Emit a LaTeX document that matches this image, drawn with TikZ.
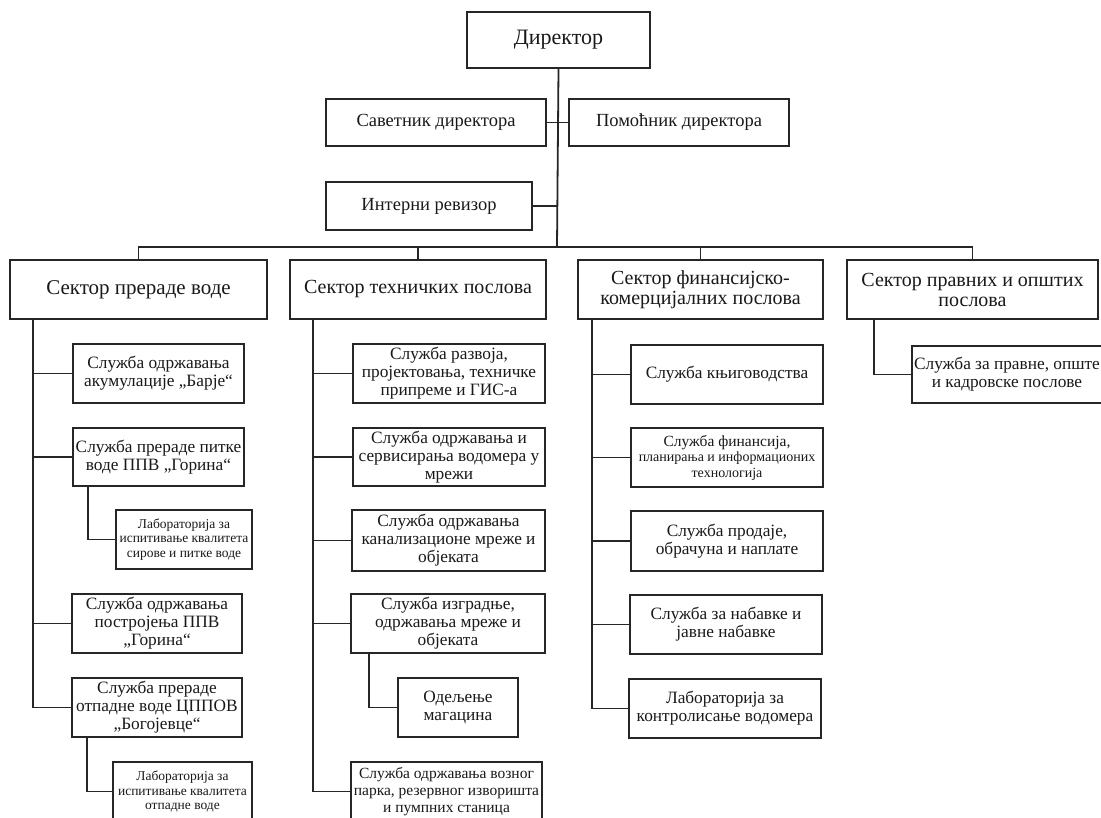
\documentclass[tikz,border=0pt]{standalone}
\usepackage{fontspec}
\setmainfont{Liberation Serif}
\usetikzlibrary{calc}
\tikzset{
  box/.style={draw=black!85, line width=1.8pt, fill=white, align=center, inner sep=1pt, text=black!90},
  wh/.style n args={2}{minimum width=#1pt, minimum height=#2pt},
  fbig/.style={font=\fontsize{22}{24}\selectfont},
  fmid/.style={font=\fontsize{18.5}{22}\selectfont},
  fsec/.style={font=\fontsize{20}{20}\selectfont},
  fsecb/.style={font=\fontsize{21}{21}\selectfont},
  fchild/.style={font=\fontsize{17.3}{18}\selectfont},
  fsmall/.style={font=\fontsize{15.5}{17}\selectfont},
  flab/.style={font=\fontsize{13.5}{14.5}\selectfont},
  conn/.style={draw=black!85, line width=1.8pt},
}
\begin{document}
\begin{tikzpicture}[x=1pt,y=-1pt]
\useasboundingbox (0,0) rectangle (1101,818);
\fill[white] (0,0) rectangle (1101,818);
\clip (0,0) rectangle (1101,818);

% top level
\node[box,fbig,wh={183}{56}] (dir) at (558.5,40) {Директор};
\node[box,fmid,wh={220}{47}] (sav) at (436,122.5) {Саветник директора};
\node[box,fmid,wh={220}{47}] (pom) at (679,122.5) {Помоћник директора};
\node[box,fmid,wh={206}{48}] (int) at (429,206) {Интерни ревизор};
\coordinate (bus) at (557,247);

% sectors
\node[box,fsecb,wh={257}{59}] (s1) at (138.5,289.5) {Сектор прераде воде};
\node[box,fsec,wh={256}{59}] (s2) at (418,289.5) {Сектор техничких послова};
\node[box,fsec,wh={245}{59}] (s3) at (700.5,289.5) {Сектор финансијско-\\комерцијалних послова};
\node[box,fsec,wh={251}{59}] (s4) at (972.5,289.5) {Сектор правних и општих\\послова};

% sector 1
\node[box,fchild,wh={171}{59}] (a1) at (158.5,373.5) {Служба одржавања\\акумулације „Барје“};
\node[box,fchild,wh={171}{58}] (a2) at (158.5,457) {Служба прераде питке\\воде ППВ „Горина“};
\node[box,flab,wh={136}{59}] (a2l) at (184,539.5) {Лабораторија за\\испитивање квалитета\\сирове и питке воде};
\node[box,fchild,wh={170}{59}] (a3) at (157,623.5) {Служба одржавања\\постројења ППВ\\„Горина“};
\node[box,fchild,wh={170}{59}] (a4) at (157,707.5) {Служба прераде\\отпадне воде ЦППОВ\\„Богојевце“};
\node[box,flab,wh={139}{59}] (a4l) at (182.5,791.5) {Лабораторија за\\испитивање квалитета\\отпадне воде};

% sector 2
\node[box,fchild,wh={192}{59}] (b1) at (449,373.5) {Служба развоја,\\пројектовања, техничке\\припреме и ГИС-а};
\node[box,fchild,wh={192}{58}] (b2) at (449,457) {Служба одржавања и\\сервисирања водомера у\\мрежи};
\node[box,fchild,wh={193}{61}] (b3) at (448.5,540.5) {Служба одржавања\\канализационе мреже и\\објеката};
\node[box,fchild,wh={194}{59}] (b4) at (448,623.5) {Служба изградње,\\одржавања мреже и\\објеката};
\node[box,fchild,wh={120}{59}] (b4s) at (458,707.5) {Одељење\\магацина};
\node[box,fsmall,wh={191}{59}] (b5) at (446.5,791.5) {Служба одржавања возног\\парка, резервног изворишта\\и пумпних станица};

% sector 3
\node[box,fchild,wh={192}{59}] (c1) at (727,374.5) {Служба књиговодства};
\node[box,wh={192}{59},font=\fontsize{14}{15.5}\selectfont] (c2) at (727,457.5) {{\fontsize{15.5}{15.5}\selectfont Служба финансија,}\\планирања и информационих\\технологија};
\node[box,fchild,wh={192}{60}] (c3) at (727,541) {Служба продаје,\\обрачуна и наплате};
\node[box,fchild,wh={192}{59}] (c4) at (726,624.5) {Служба за набавке и\\јавне набавке};
\node[box,fchild,wh={192}{59}] (c5) at (725,708.5) {Лабораторија за\\контролисање водомера};

% sector 4
\node[box,fchild,wh={190}{57}] (d1) at (1007,374.5) {Служба за правне, опште\\и кадровске послове};

% top connectors
\draw[conn] (dir.south) -- (bus);
\draw[conn] (sav.east) -- (pom.west);
\draw[conn] (int.east) -- (int.east -| bus);
\draw[conn] (s1.north) -- (s1.north |- bus) -- (s4.north |- bus) -- (s4.north);
\draw[conn] (s2.north) -- (s2.north |- bus);
\draw[conn] (s3.north) -- (s3.north |- bus);

% sector 1 connectors
\coordinate (sp1) at ($(s1.south west)+(24,0)$);
\draw[conn] (sp1) |- (a4.west);
\foreach \n in {a1,a2,a3} \draw[conn] (\n.west) -- (\n.west -| sp1);
\draw[conn] ($(a2.south west)+(16,0)$) |- (a2l.west);
\draw[conn] ($(a4.south west)+(16,0)$) |- (a4l.west);

% sector 2 connectors
\coordinate (sp2) at ($(s2.south west)+(24,0)$);
\draw[conn] (sp2) |- (b5.west);
\foreach \n in {b1,b2,b3,b4} \draw[conn] (\n.west) -- (\n.west -| sp2);
\draw[conn] ($(b4.south west)+(19,0)$) |- (b4s.west);

% sector 3 connectors
\coordinate (sp3) at ($(s3.south west)+(15,0)$);
\draw[conn] (sp3) |- (c5.west);
\foreach \n in {c1,c2,c3,c4} \draw[conn] (\n.west) -- (\n.west -| sp3);

% sector 4 connectors
\draw[conn] ($(s4.south west)+(28,0)$) |- (d1.west);
\end{tikzpicture}
\end{document}
